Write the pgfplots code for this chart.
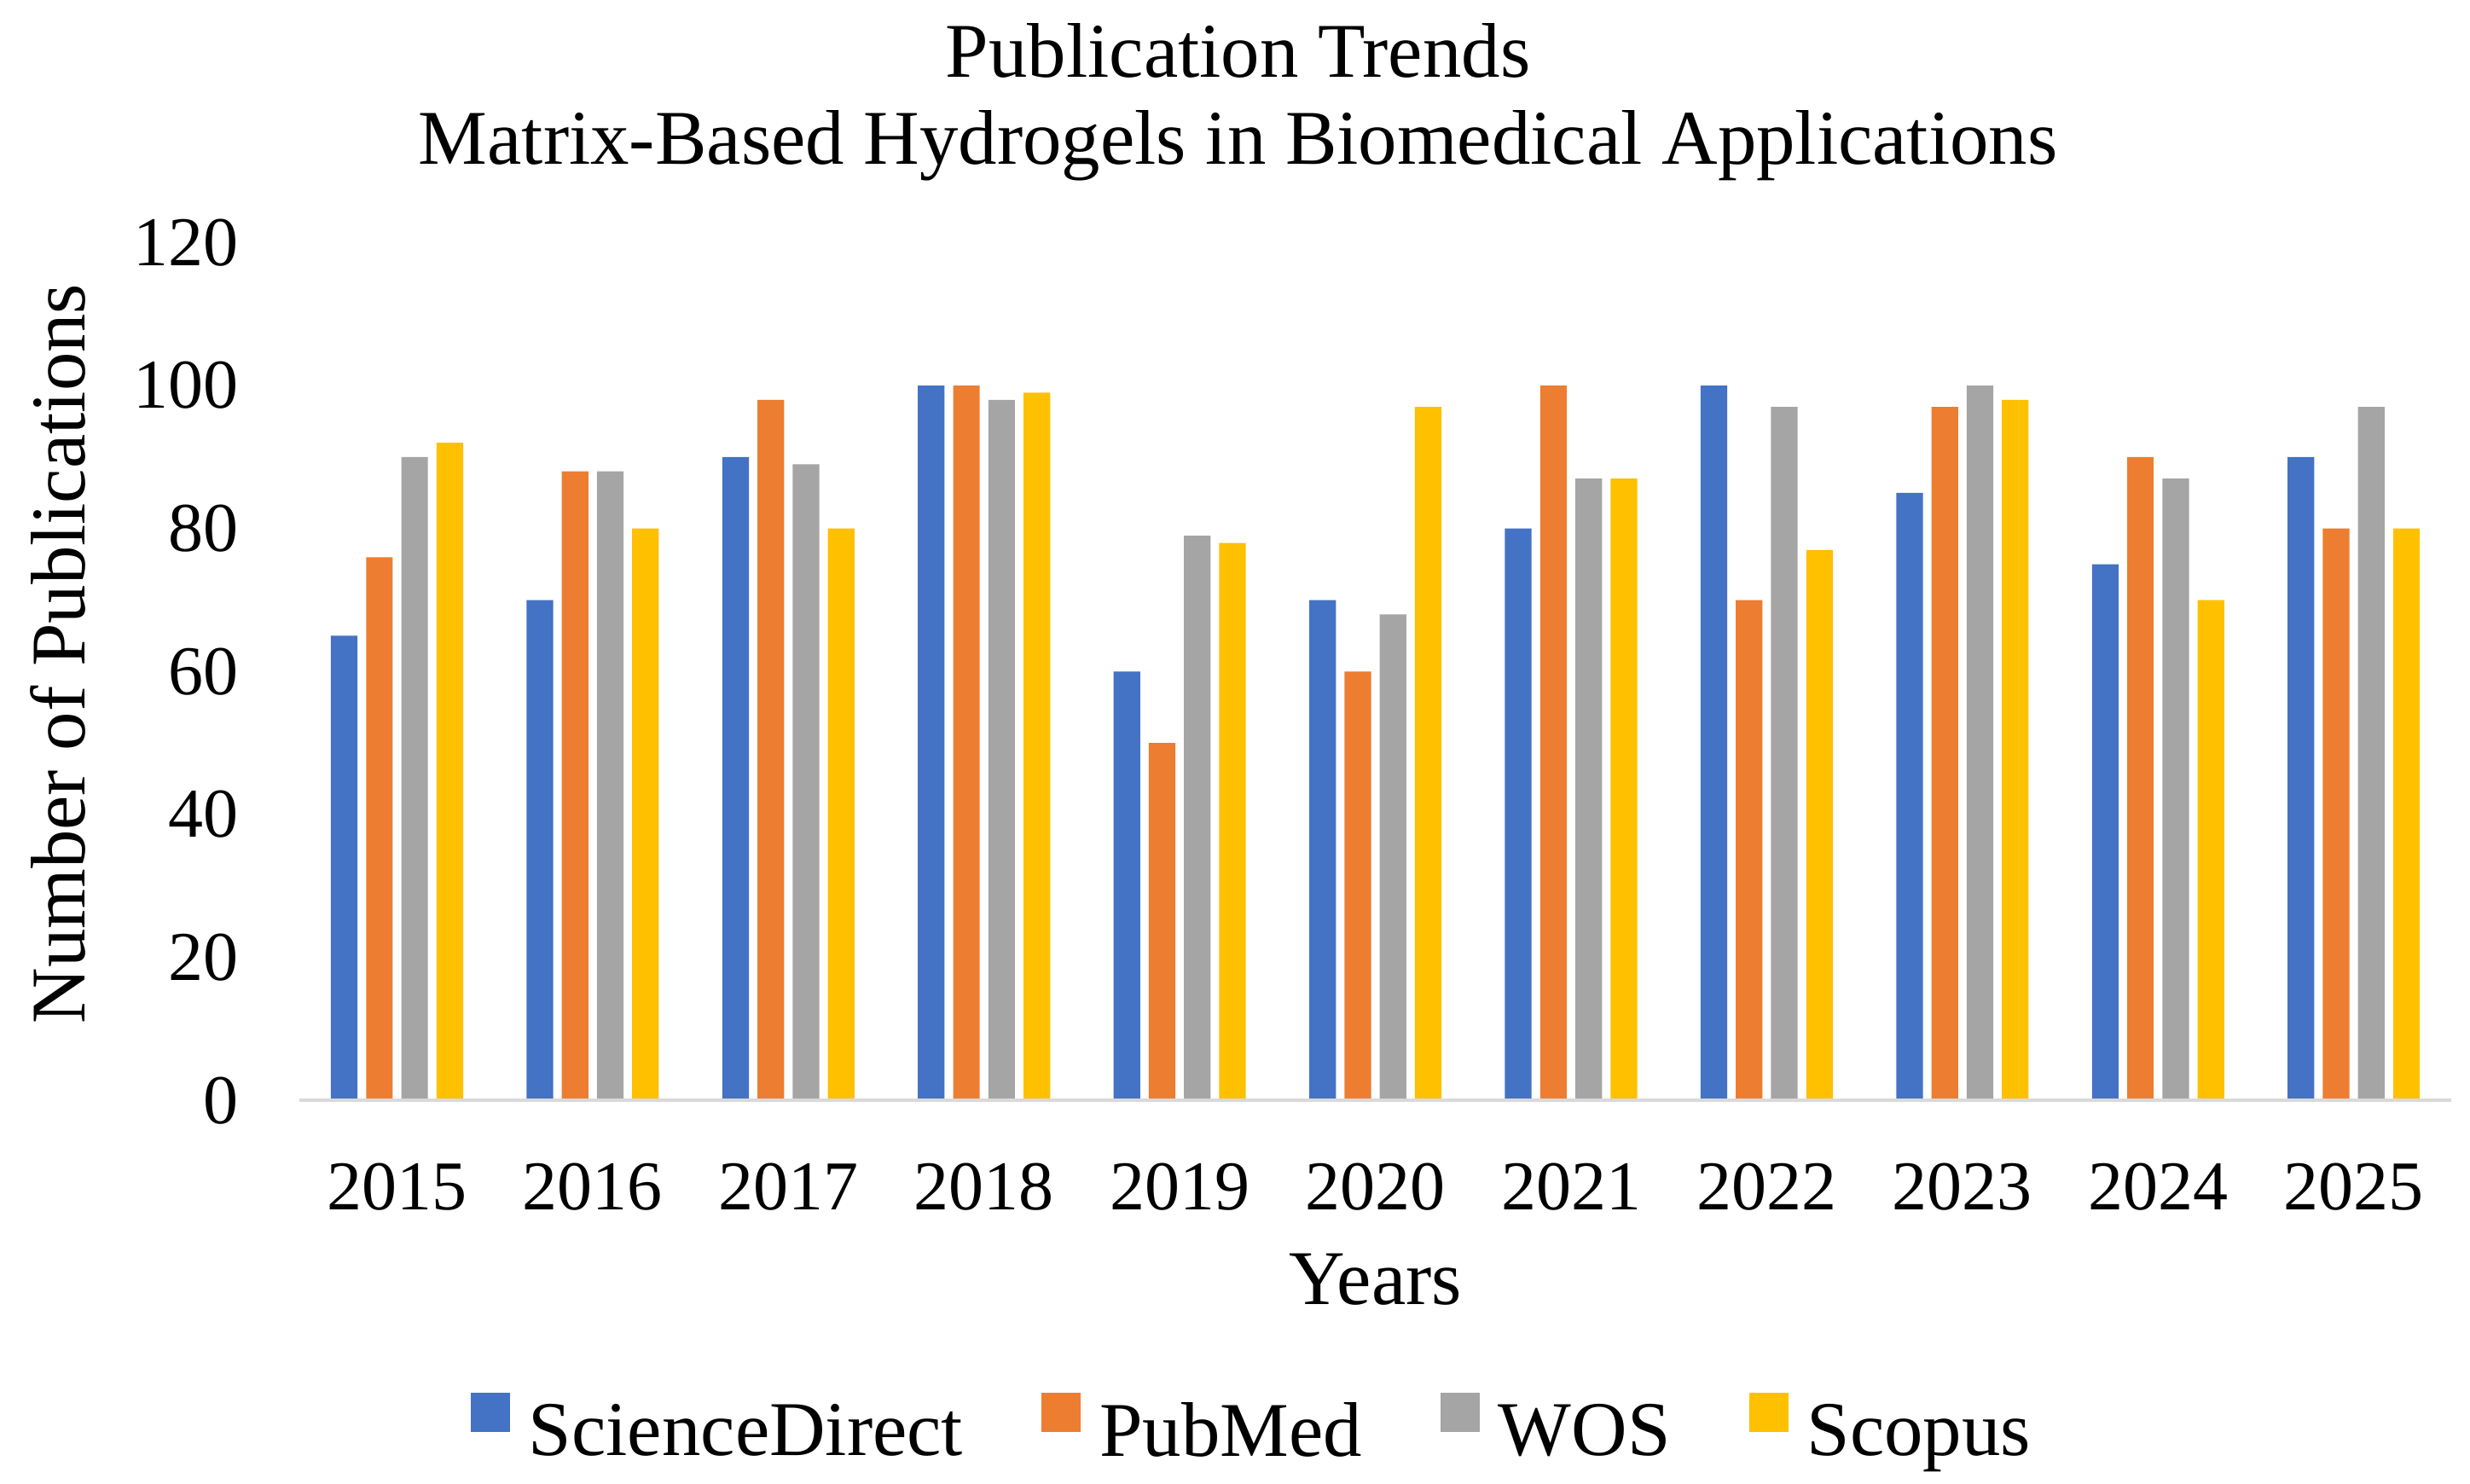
\documentclass[border=0pt]{standalone}
\usepackage{fontspec}
\setmainfont{Liberation Serif}
\usepackage{pgfplots}
\usepackage{pgfplotstable}
\pgfplotsset{compat=1.18}
\definecolor{sdblue}{HTML}{4472C4}
\definecolor{pmorange}{HTML}{ED7D31}
\definecolor{wosgray}{HTML}{A5A5A5}
\definecolor{scyellow}{HTML}{FFC000}
\definecolor{axisgray}{HTML}{D9D9D9}

% publications per year and database
\pgfplotstableread{
x year sd pm wos sc
0 2015 65 76 90 92
1 2016 70 88 88 80
2 2017 90 98 89 80
3 2018 100 100 98 99
4 2019 60 50 79 78
5 2020 70 60 68 97
6 2021 80 100 87 87
7 2022 100 70 97 77
8 2023 85 97 100 98
9 2024 75 90 87 70
10 2025 90 80 97 80
}\pubdata

\newcommand{\tickfont}{\fontsize{20.5}{24}\selectfont}
\newcommand{\labfont}{\fontsize{22.7}{27}\selectfont}

\begin{document}
\begin{tikzpicture}
\begin{axis}[
    at={(0pt,0pt)}, anchor=south west,
    scale only axis,
    width=630.9pt, height=251.5pt,
    ybar=2.52pt, bar width=7.8pt,
    xmin=-0.5, xmax=10.5,
    ymin=0, ymax=120,
    xtick={0,...,10},
    xticklabels={2015,2016,2017,2018,2019,2020,2021,2022,2023,2024,2025},
    ytick={0,20,...,120},
    axis line style={draw=none},
    major tick length=0pt,
    /pgf/number format/assume math mode=true,
    yticklabel style={anchor=east, inner sep=0pt, xshift=-17.5pt, font=\tickfont},
    xticklabel style={anchor=base, inner sep=0pt, yshift=-32pt, font=\tickfont},
    xlabel={Years},
    xlabel style={at={(axis description cs:0.5,0)}, anchor=base, yshift=-59.7pt, font=\labfont},
    ylabel={Number of Publications},
    ylabel style={at={(axis description cs:-0.1119,0.5206)}, anchor=center, font=\labfont},
    legend columns=4,
    legend style={at={(axis description cs:0.4421,-0.381)}, anchor=center, draw=none,
        font=\labfont, nodes={inner sep=0pt},
        /tikz/every odd column/.append style={column sep=5.5pt},
        /tikz/every even column/.append style={column sep=23pt}},
    legend image code/.code={\fill[#1] (0pt,0pt) rectangle (11.5pt,11.5pt);},
    clip=false,
]
\addplot[fill=sdblue, draw=none] table[x=x, y=sd] {\pubdata};
\addplot[fill=pmorange, draw=none] table[x=x, y=pm] {\pubdata};
\addplot[fill=wosgray, draw=none] table[x=x, y=wos] {\pubdata};
\addplot[fill=scyellow, draw=none] table[x=x, y=sc] {\pubdata};
\legend{ScienceDirect, PubMed, WOS, Scopus}
\draw[axisgray, line width=1pt] (axis cs:-0.5,0) -- (axis cs:10.5,0);
\node[anchor=base, font=\labfont] at (axis description cs:0.4362,1.1925) {Publication Trends};
\node[anchor=base, font=\labfont] at (axis description cs:0.4362,1.0915) {Matrix-Based Hydrogels in Biomedical Applications};
\end{axis}
\pgfresetboundingbox
\path (-87.7pt,-112.2pt) rectangle (636.3pt,322.6pt);
\end{tikzpicture}
\end{document}
